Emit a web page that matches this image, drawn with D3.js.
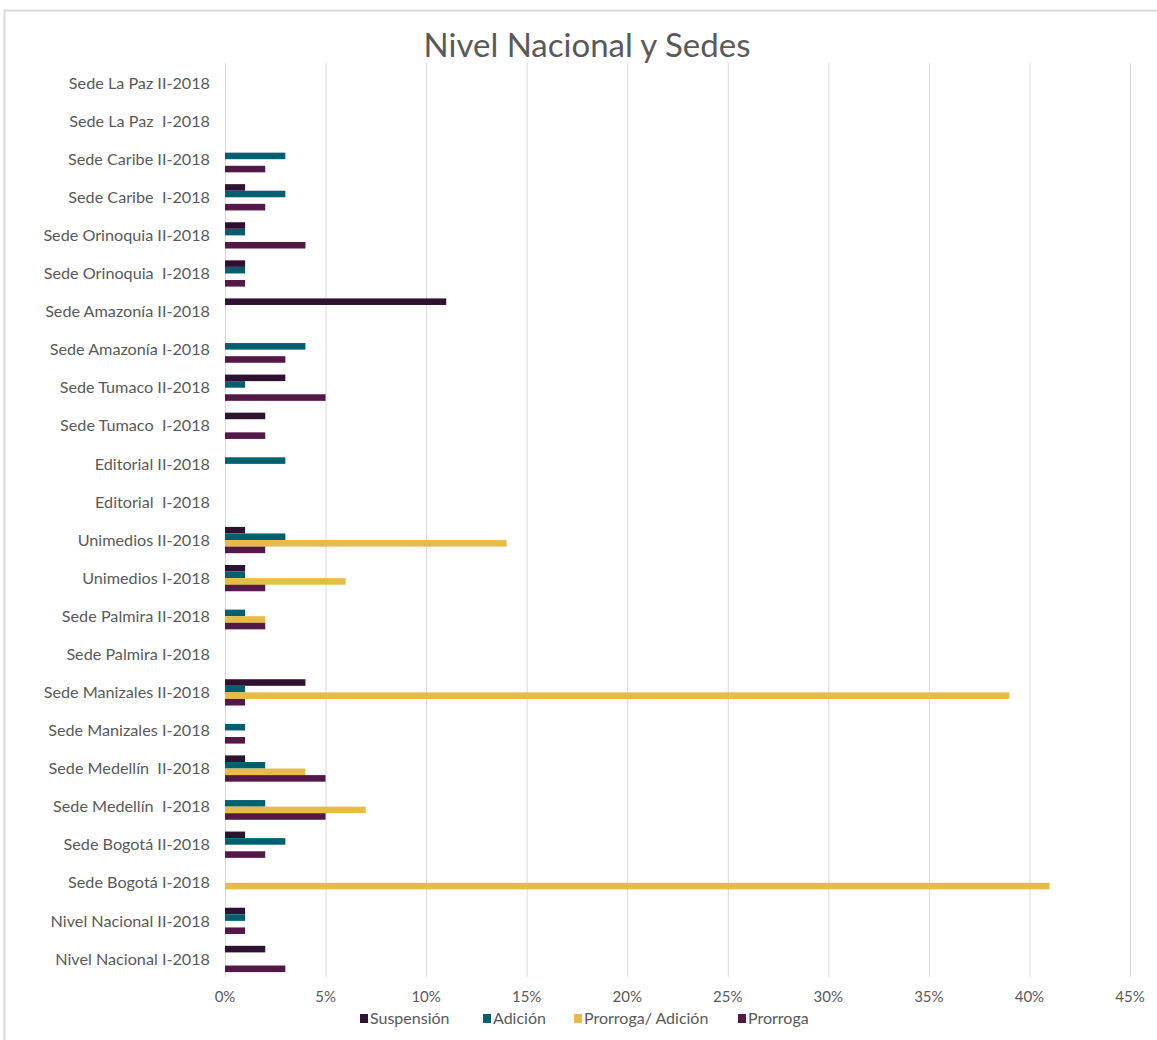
<!DOCTYPE html>
<html>
<head>
<meta charset="utf-8">
<script src="https://cdn.jsdelivr.net/npm/d3@7"></script>
<style>
  html, body { margin: 0; padding: 0; background: #fff; }
  svg { display: block; font-family: Lato, "Open Sans", sans-serif; }
</style>
</head>
<body>
<svg id="chart" width="1157" height="1040"></svg>
<script>
const categories = [
  "Sede La Paz II-2018", "Sede La Paz  I-2018", "Sede Caribe II-2018", "Sede Caribe  I-2018",
  "Sede Orinoquia II-2018", "Sede Orinoquia  I-2018", "Sede Amazonía II-2018", "Sede Amazonía I-2018",
  "Sede Tumaco II-2018", "Sede Tumaco  I-2018", "Editorial II-2018", "Editorial  I-2018",
  "Unimedios II-2018", "Unimedios I-2018", "Sede Palmira II-2018", "Sede Palmira I-2018",
  "Sede Manizales II-2018", "Sede Manizales I-2018", "Sede Medellín  II-2018", "Sede Medellín  I-2018",
  "Sede Bogotá II-2018", "Sede Bogotá I-2018", "Nivel Nacional II-2018", "Nivel Nacional I-2018"
];
const seriesNames = ["Suspensión", "Adición", "Prorroga/ Adición", "Prorroga"];
const seriesColors = ["#2f1131", "#005f6f", "#e7bb48", "#531846"];
// values in percent, same order as categories
const suspension      = [0,0,0,1, 1,1,11,0, 3,2,0,0, 1,1,0,0, 4,0,1,0, 1,0,1,2];
const adicion         = [0,0,3,3, 1,1,0,4, 1,0,3,0, 3,1,1,0, 1,1,2,2, 3,0,1,0];
const prorrogaAdicion = [0,0,0,0, 0,0,0,0, 0,0,0,0, 14,6,2,0, 39,0,4,7, 0,41,0,0];
const prorroga        = [0,0,2,2, 4,1,0,3, 5,2,0,0, 2,2,2,0, 1,1,5,5, 2,0,1,3];
const xTicks = [0,5,10,15,20,25,30,35,40,45];

const seriesValues = [suspension, adicion, prorrogaAdicion, prorroga];

const svg = d3.select("#chart");
const W = 1157, H = 1040;

// frame
svg.append("path").attr("d", `M4.5,${H} V10.5 H${W}`).attr("fill","none").attr("stroke","#d9d9d9").attr("stroke-width",2);

// title
svg.append("text").attr("x", 587).attr("y", 57).attr("text-anchor","middle")
  .attr("font-size", 33).attr("fill", "#595959").text("Nivel Nacional y Sedes");

const x = d3.scaleLinear().domain([0,45]).range([225,1130]);
const y = d3.scaleBand().domain(categories).range([64,978]).paddingInner(0.31).paddingOuter(0.155);
const ySub = d3.scaleBand().domain(d3.range(4)).range([0, y.bandwidth()]);

// gridlines
svg.append("g").selectAll("line").data(xTicks).join("line")
  .attr("x1", d => x(d)+0.5).attr("x2", d => x(d)+0.5)
  .attr("y1", 63).attr("y2", 977)
  .attr("stroke", "#d9d9d9").attr("stroke-width", 1);

// bars
const groups = svg.append("g").selectAll("g").data(categories).join("g")
  .attr("transform", d => `translate(0,${y(d)})`);
groups.selectAll("rect").data((c, i) => seriesValues.map((vals, s) => ({s, v: vals[i]})))
  .join("rect")
  .filter(d => d.v > 0)
  .attr("x", x(0)).attr("y", d => ySub(d.s))
  .attr("width", d => x(d.v) - x(0)).attr("height", ySub.bandwidth())
  .attr("fill", d => seriesColors[d.s]);

// y labels
svg.append("g").selectAll("text").data(categories).join("text")
  .attr("x", 210).attr("y", d => y(d) + y.bandwidth()/2).attr("dy", "0.35em")
  .attr("text-anchor", "end").attr("font-size", 16.2).attr("fill", "#595959")
  .style("white-space", "pre").attr("xml:space", "preserve")
  .text(d => d);

// x axis labels
svg.append("g").selectAll("text").data(xTicks).join("text")
  .attr("x", d => x(d)).attr("y", 997).attr("dy", "0.35em")
  .attr("text-anchor", "middle").attr("font-size", 15).attr("fill", "#595959")
  .text(d => d + "%");

// legend
const legendX = [360, 483, 574, 738];
const leg = svg.append("g").selectAll("g").data(seriesNames).join("g")
  .attr("transform", (d,i) => `translate(${legendX[i]},1018)`);
leg.append("rect").attr("x", 0).attr("y", -4).attr("width", 8).attr("height", 9)
  .attr("fill", (d,i) => seriesColors[i]);
leg.append("text").attr("x", 10).attr("y", 0).attr("dy", "0.35em")
  .attr("font-size", 16).attr("fill", "#595959").text(d => d);
</script>
</body>
</html>
